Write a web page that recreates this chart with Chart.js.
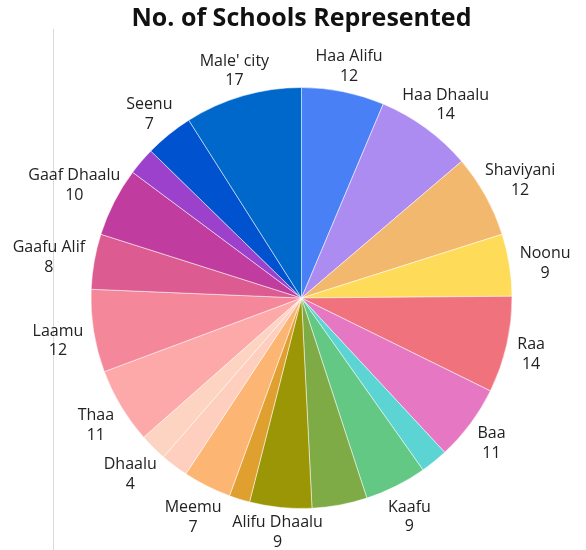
<!DOCTYPE html>
<html lang="en">
<head>
    <meta charset="UTF-8">
    <title>No. of Schools Represented</title>
    <style>
        body {
            margin: 0;
            padding: 0;
            background-color: #ffffff;
            font-family: 'Open Sans', sans-serif;
        }
        .wrap {
            position: relative;
            width: 586px;
            height: 550px;
        }
        .rule {
            position: absolute;
            left: 53px;
            top: 29px;
            width: 1px;
            height: 521px;
            background-color: #dadada;
        }
        #schoolsChart {
            position: absolute;
            left: 0;
            top: 0;
        }
    </style>
</head>
<body>

<div class="wrap">
    <div class="rule"></div>
    <canvas id="schoolsChart" width="586" height="550"></canvas>
</div>

<script src="https://cdnjs.cloudflare.com/ajax/libs/Chart.js/4.4.1/chart.umd.min.js"></script>
<script>
    // atolls, in the order they go round the pie (clockwise from the top)
    const atolls = ['Haa Alifu', 'Haa Dhaalu', 'Shaviyani', 'Noonu', 'Raa', 'Baa', 'Lhaviyani',
        'Kaafu', 'Alifu Alifu', 'Alifu Dhaalu', 'Vaavu', 'Meemu', 'Faafu', 'Dhaalu', 'Thaa',
        'Laamu', 'Gaafu Alif', 'Gaaf Dhaalu', 'Fuvahmulah', 'Seenu', "Male' city"];
    const schools = [12, 14, 12, 9, 14, 11, 4, 9, 8, 9, 3, 7, 4, 4, 11, 12, 8, 10, 4, 7, 17];
    // small neighbours whose labels were left off in the original
    const unlabelled = ['Lhaviyani', 'Alifu Alifu', 'Vaavu', 'Faafu', 'Fuvahmulah'];
    const sliceColors = ['#4a80f5', '#ad8cf2', '#f2b86e', '#ffdb5a', '#ef727d', '#e677c3', '#5cd4d4',
        '#62c884', '#7fab47', '#9a9605', '#e0a030', '#fdb573', '#fecebe', '#fdd3c2', '#fda9a9',
        '#f48799', '#dc5c92', '#c03c9e', '#9b41cc', '#0052cf', '#0068cb'];

    const LABEL_FONT = 16;
    const LINE = 19.5;
    const PAD_X = 7;
    const PAD_Y = 6;
    const OFFSET = 4;
    const DROP = 4;

    // draws "name / value" just outside each slice
    const sliceLabels = {
        id: 'sliceLabels',
        afterDatasetsDraw(chart) {
            const ctx = chart.ctx;
            const meta = chart.getDatasetMeta(0);
            ctx.save();
            ctx.font = LABEL_FONT + 'px "Open Sans"';
            ctx.fillStyle = '#222222';
            ctx.textAlign = 'center';
            ctx.textBaseline = 'middle';
            meta.data.forEach((el, i) => {
                if (unlabelled.includes(atolls[i])) return;
                const arc = el.getProps(['x', 'y', 'startAngle', 'endAngle', 'outerRadius'], true);
                const mid = (arc.startAngle + arc.endAngle) / 2;
                const vx = Math.cos(mid), vy = Math.sin(mid);
                const lines = [atolls[i], String(schools[i])];
                const a = Math.max(...lines.map(t => ctx.measureText(t).width)) / 2 + PAD_X;
                const b = lines.length * LINE / 2 + PAD_Y;
                // push the label out so its (elliptic) outline just clears the slice edge
                const t = a * b / Math.sqrt((b * vx) ** 2 + (a * vy) ** 2);
                const bx = arc.x + vx * (arc.outerRadius + OFFSET + t);
                const by = arc.y + vy * (arc.outerRadius + OFFSET + t);
                let y0 = by - b + PAD_Y + DROP + LINE / 2;
                const last = y0 + LINE * (lines.length - 1);
                if (last > chart.height - 8) y0 -= last - (chart.height - 8);
                lines.forEach((txt, k) => ctx.fillText(txt, bx, y0 + LINE * k));
            });
            ctx.restore();
        }
    };

    const ctx = document.getElementById('schoolsChart').getContext('2d');
    new Chart(ctx, {
        type: 'pie',
        data: {
            labels: atolls,
            datasets: [{
                data: schools,
                backgroundColor: sliceColors,
                borderColor: 'rgba(255, 255, 255, 0.5)',
                borderWidth: 1
            }]
        },
        options: {
            responsive: false,
            animation: false,
            layout: {
                padding: { top: 0, bottom: 41, left: 67, right: 50 }
            },
            plugins: {
                legend: { display: false },
                tooltip: { enabled: false },
                title: {
                    display: true,
                    text: 'No. of Schools Represented',
                    color: '#111111',
                    font: { family: 'Open Sans', size: 25, weight: 'bold' },
                    padding: { top: 4, bottom: 53 }
                }
            }
        },
        plugins: [sliceLabels]
    });
</script>

</body>
</html>
